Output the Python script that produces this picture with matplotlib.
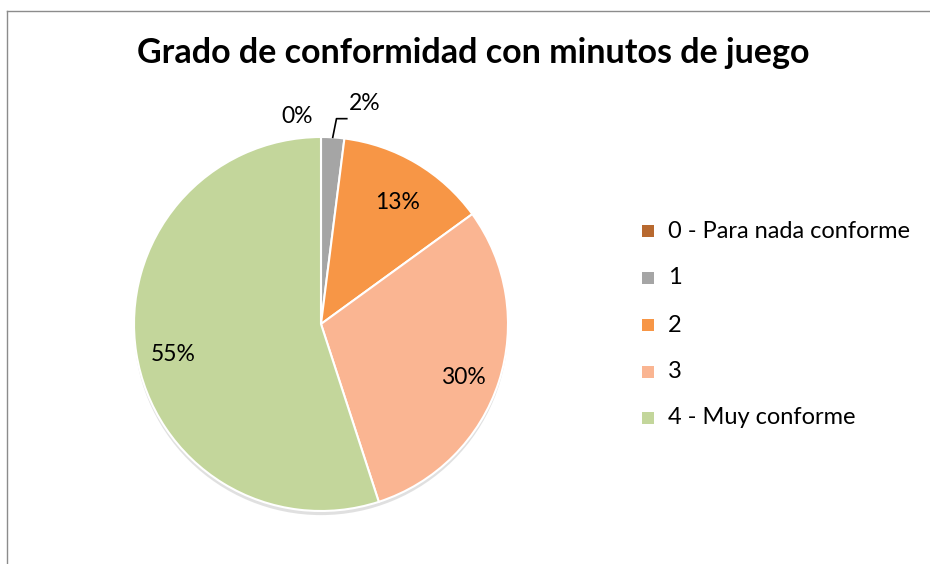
import numpy as np
import matplotlib.pyplot as plt
from matplotlib.patches import Rectangle

categories = ["0 - Para nada conforme", "1", "2", "3", "4 - Muy conforme"]
values = [0, 2, 13, 30, 55]
pct_labels = ["0%", "2%", "13%", "30%", "55%"]
colors = ["#B8692F", "#A5A5A5", "#F79646", "#FAB592", "#C3D69B"]
title = "Grado de conformidad con minutos de juego"

plt.rcParams['font.family'] = ['Lato', 'DejaVu Sans']

fig = plt.figure(figsize=(9.3, 5.64), dpi=100)
W, H = 930, 564

# chart border (top and left visible)
fig.add_artist(plt.Line2D([7 / W, 7 / W], [0, 1 - 11 / H], color="#8C8C8C", lw=1.0))
fig.add_artist(plt.Line2D([7 / W, 1], [1 - 11 / H, 1 - 11 / H], color="#8C8C8C", lw=1.0))

cx, cy, r = 321, 324, 187
ax = fig.add_axes([(cx - r) / W, (H - cy - r) / H, 2 * r / W, 2 * r / H])

# subtle shadow
sh = ax.pie([1], radius=1.0, colors=["#C8C8C8"], startangle=90,
            wedgeprops=dict(linewidth=0), center=(0.0, -0.022))
for w in sh[0]:
    w.set_alpha(0.55)

wedges, _ = ax.pie(values, colors=colors, startangle=90, counterclock=False,
                   radius=1.0, wedgeprops=dict(edgecolor="white", linewidth=1.5))
ax.set_xlim(-1, 1)
ax.set_ylim(-1, 1)
ax.set_aspect("equal")
ax.axis("off")

FS = 16.5
total = sum(values)
cum = 0
for i, v in enumerate(values):
    mid = (cum + v / 2) / total
    ang = np.deg2rad(90 - 360 * mid)
    cum += v
    if v / total > 0.05:
        ax.text(0.8 * np.cos(ang), 0.8 * np.sin(ang) - 0.04, pct_labels[i],
                ha="center", va="center", fontsize=FS, color="#000000")

# small slices: outside labels
ang0 = np.deg2rad(90 - 360 * (values[0] / 2) / total)
ax.text(1.11 * np.cos(ang0) - 0.13, 1.11 * np.sin(ang0), pct_labels[0],
        ha="center", va="center", fontsize=FS, clip_on=False)
mid1 = (values[0] + values[1] / 2) / total
ang1 = np.deg2rad(90 - 360 * mid1)
x0, y0 = np.cos(ang1), np.sin(ang1)
ax.plot([x0, x0 + 0.02, x0 + 0.075], [y0, y0 + 0.1, y0 + 0.1], color="black", lw=1.2,
        clip_on=False)
ax.text(x0 + 0.085, y0 + 0.18, pct_labels[1], ha="left", va="center", fontsize=FS,
        clip_on=False)

fig.text(473 / W, 1 - 53 / H, title, ha="center", va="center",
         fontsize=24.5, fontweight="bold", color="#000000")

# legend
ys = [231, 278, 325, 372, 418]
for c, lab, y in zip(colors, categories, ys):
    fig.add_artist(Rectangle(((648 - 6) / W, (H - y - 6) / H), 12 / W, 12 / H,
                             facecolor=c, edgecolor="none", transform=fig.transFigure))
    fig.text(668 / W, (H - y) / H, lab, ha="left", va="center", fontsize=17)

fig.savefig("out.png", dpi=100, facecolor="white")
